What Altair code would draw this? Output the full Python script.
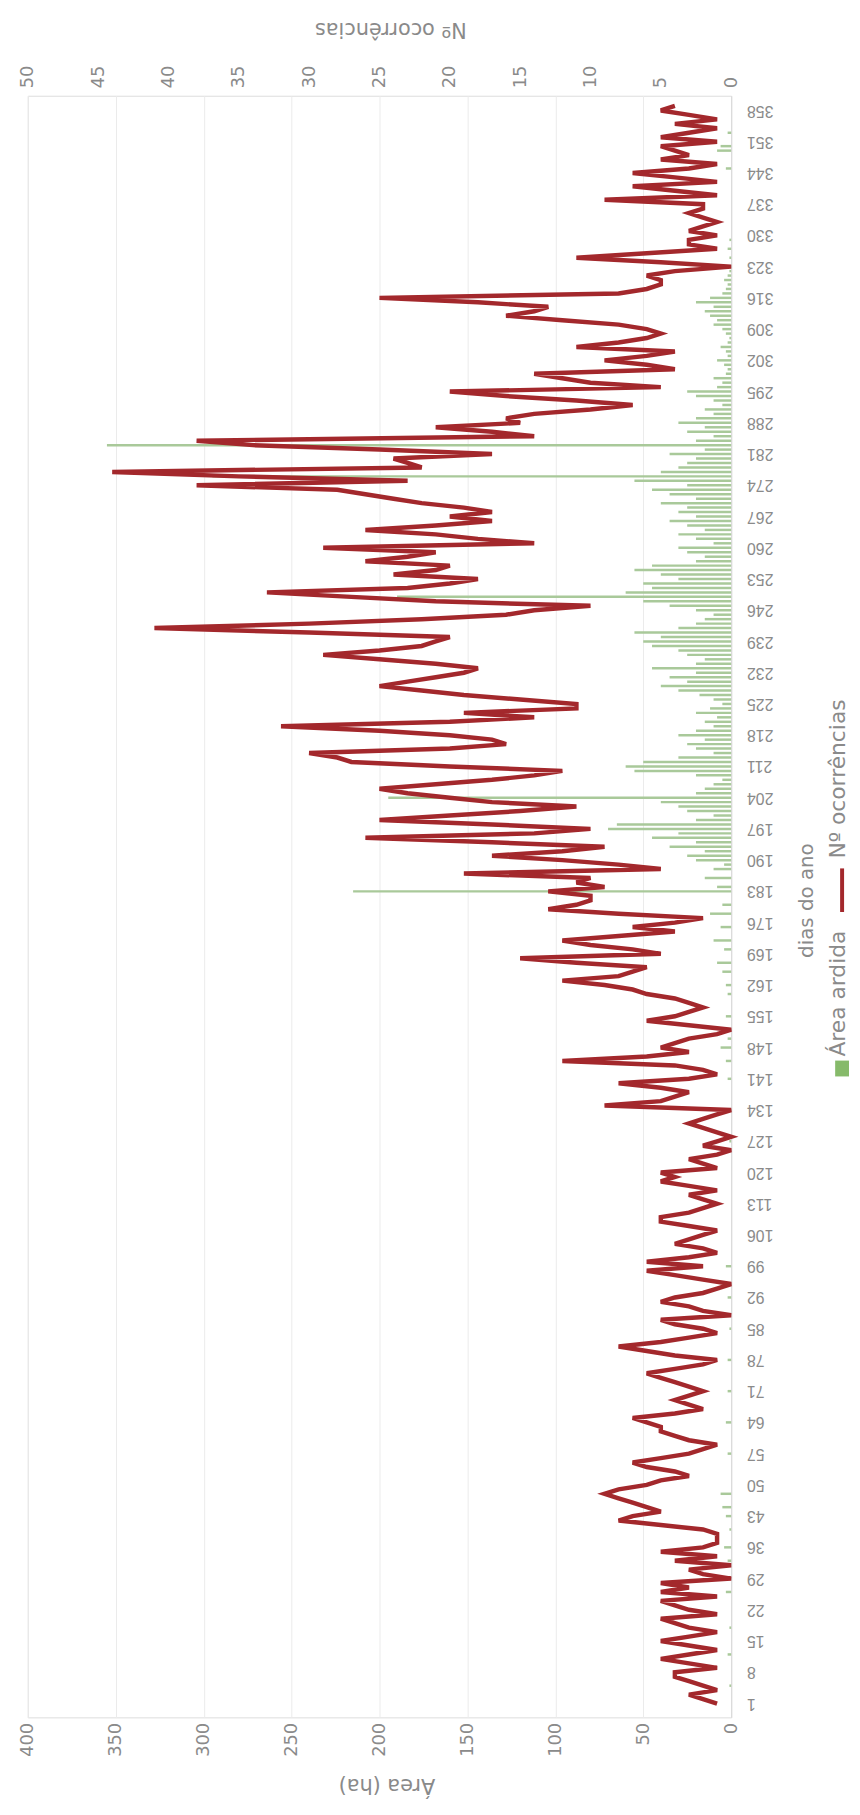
import altair as alt
import pandas as pd

# ---- data ----
days = list(range(1, 360))

ocorrencias = [
    1, 2, 3, 1, 2, 3, 4, 4, 1, 3,
    5, 3, 1, 3, 5, 3, 1, 3, 4, 5,
    1, 3, 4, 5, 1, 5, 3, 5, 0, 2,
    3, 0, 4, 1, 5, 2, 1, 1, 1, 2,
    5, 8, 7, 5, 6, 7, 8, 9, 8, 6,
    5, 3, 4, 6, 7, 5, 3, 2, 1, 3,
    4, 5, 5, 6, 7, 4, 2, 3, 4, 3,
    2, 3, 4, 5, 6, 4, 2, 1, 4, 6,
    8, 5, 3, 1, 2, 4, 5, 0, 2, 3,
    5, 4, 2, 1, 0, 2, 4, 6, 2, 6,
    3, 1, 2, 4, 3, 2, 1, 3, 5, 5,
    3, 2, 1, 2, 3, 1, 3, 5, 4, 5,
    1, 2, 3, 1, 0, 2, 1, 0, 1, 2,
    3, 2, 1, 0, 9, 5, 4, 3, 5, 8,
    3, 1, 2, 4, 12, 6, 3, 5, 4, 3,
    1, 0, 3, 6, 4, 3, 2, 3, 4, 6,
    7, 9, 12, 8, 7, 6, 11, 15, 5, 7,
    10, 12, 8, 4, 7, 4, 2, 8, 13, 11,
    10, 10, 13, 9, 11, 10, 19, 5, 8, 12,
    17, 12, 9, 17, 26, 14, 10, 17, 25, 20,
    15, 11, 17, 20, 23, 25, 21, 17, 14, 12,
    20, 27, 28, 30, 20, 16, 17, 20, 25, 32,
    20, 14, 19, 11, 11, 15, 19, 22, 25, 23,
    21, 19, 18, 21, 25, 29, 25, 22, 21, 20,
    30, 41, 30, 22, 16, 14, 10, 21, 27, 33,
    23, 20, 18, 24, 21, 20, 26, 23, 21, 29,
    14, 18, 21, 26, 21, 17, 20, 17, 19, 22,
    24, 26, 28, 38, 23, 35, 44, 22, 23, 24,
    17, 25, 34, 38, 14, 17, 21, 15, 16, 14,
    10, 7, 11, 16, 20, 5, 10, 12, 14, 4,
    6, 9, 6, 4, 11, 8, 6, 5, 6, 8,
    12, 16, 14, 13, 18, 25, 8, 6, 5, 5,
    6, 4, 0, 5, 11, 6, 1, 3, 3, 1,
    3, 2, 1, 2, 3, 2, 2, 9, 1, 4,
    7, 1, 4, 7, 3, 1, 5, 3, 4, 5,
    1, 5, 3, 1, 4, 1, 3, 5, 4,
]

area = [
    0, 0, 0, 0, 1, 0, 0, 0, 0, 0,
    0, 2, 0, 0, 0, 0, 0, 1, 0, 0,
    0, 0, 0, 0, 0, 3, 0, 0, 0, 0,
    0, 0, 2, 0, 0, 4, 0, 0, 0, 1,
    0, 0, 3, 0, 5, 0, 0, 6, 0, 0,
    0, 0, 0, 0, 0, 0, 2, 0, 0, 0,
    0, 0, 0, 3, 0, 0, 0, 0, 0, 0,
    2, 0, 0, 0, 0, 0, 0, 2, 0, 0,
    0, 0, 0, 0, 1, 0, 0, 0, 0, 0,
    0, 2, 0, 0, 0, 0, 0, 0, 3, 0,
    0, 0, 0, 0, 0, 0, 0, 0, 0, 0,
    0, 0, 0, 0, 0, 0, 0, 0, 0, 0,
    0, 0, 0, 0, 0, 0, 1, 0, 0, 0,
    0, 0, 0, 4, 0, 0, 0, 0, 0, 0,
    2, 0, 0, 0, 3, 0, 0, 6, 0, 2,
    0, 0, 0, 0, 3, 0, 0, 0, 0, 2,
    0, 3, 0, 0, 5, 0, 8, 0, 0, 4,
    0, 10, 0, 0, 6, 0, 0, 12, 0, 5,
    0, 0, 215, 8, 0, 15, 0, 10, 4, 20,
    25, 15, 35, 20, 45, 30, 70, 65, 20, 10,
    25, 30, 40, 195, 20, 15, 10, 5, 20, 55,
    60, 50, 30, 10, 20, 25, 15, 30, 20, 10,
    15, 8, 20, 12, 5, 10, 18, 30, 40, 25,
    35, 20, 45, 20, 15, 25, 30, 45, 50, 40,
    55, 30, 20, 15, 10, 20, 35, 50, 190, 60,
    45, 50, 30, 40, 55, 45, 20, 15, 25, 30,
    10, 20, 30, 15, 25, 35, 20, 30, 25, 40,
    20, 35, 45, 25, 55, 295, 40, 30, 25, 20,
    35, 15, 355, 20, 10, 25, 15, 30, 20, 10,
    15, 5, 10, 20, 25, 8, 5, 10, 3, 2,
    4, 8, 2, 3, 6, 2, 1, 3, 5, 10,
    8, 12, 15, 10, 20, 12, 5, 3, 2, 4,
    2, 1, 3, 0, 1, 0, 2, 0, 1, 0,
    0, 0, 0, 0, 0, 0, 0, 0, 0, 0,
    0, 0, 0, 0, 3, 0, 0, 0, 8, 6,
    0, 0, 2, 0, 0, 0, 0, 0, 0,
]

day_ticks = list(range(1, 359, 7))
day_tick_labels = [str(d) for d in day_ticks]
area_ticks = [0, 50, 100, 150, 200, 250, 300, 350, 400]
occ_ticks = [0, 5, 10, 15, 20, 25, 30, 35, 40, 45, 50]
legend_labels = ["Área ardida", "Nº ocorrências"]

df = pd.DataFrame({"dia": days, "ocorrencias": ocorrencias, "area": area})
df["zero"] = 0
ticks_df = pd.DataFrame({"dia": day_ticks, "lbl": day_tick_labels})

GREY = "#8a8a8a"
RED = "#a3282c"
GREEN_BAR = "#a9c99a"
GREEN_KEY = "#86ba6a"

W, H = 710, 1637

y_scale = alt.Scale(domain=[-2.1, 361.3], nice=False, zero=False)
y_axis = alt.Axis(
    orient="right", values=day_ticks, labels=False, ticks=False, grid=False,
    domainColor="#d9d9d9",
    title="dias do ano", titleAngle=270, titleFont="DejaVu Sans",
    titleFontSize=20, titleFontWeight="normal", titleColor=GREY,
    titleX=76, titleY=812, titleAlign="center", titleBaseline="middle",
)
y_enc = alt.Y("dia:Q", scale=y_scale, axis=y_axis)

bars = alt.Chart(df).mark_rule(color=GREEN_BAR, strokeWidth=2.5).encode(
    x=alt.X(
        "area:Q",
        scale=alt.Scale(domain=[0, 400], reverse=True, nice=False),
        axis=alt.Axis(
            orient="bottom", values=area_ticks, labelAngle=270, labelAlign="right",
            labelBaseline="middle", labelFontSize=18, labelFont="DejaVu Sans",
            labelColor=GREY, labelPadding=5, ticks=False, domain=False,
            grid=True, gridColor="#ebebeb", labelFlush=False, labelOverlap=False,
            title="Área (ha)", titleAngle=180, titleFont="DejaVu Sans",
            titleFontSize=21, titleFontWeight="normal", titleColor=GREY,
            titleX=362, titleY=68, titleAlign="center", titleBaseline="middle",
        ),
    ),
    x2="zero:Q",
    y=y_enc,
)

line = alt.Chart(df).mark_line(color=RED, strokeWidth=4.5).encode(
    x=alt.X(
        "ocorrencias:Q",
        scale=alt.Scale(domain=[0, 50], reverse=True, nice=False),
        axis=alt.Axis(
            orient="top", values=occ_ticks, labelAngle=270, labelAlign="left",
            labelBaseline="middle", labelFontSize=18, labelFont="DejaVu Sans",
            labelColor=GREY, labelPadding=8, ticks=False, domain=False,
            grid=False, labelFlush=False, labelOverlap=False,
            title="Nº ocorrências", titleAngle=180, titleFont="DejaVu Sans",
            titleFontSize=21, titleFontWeight="normal", titleColor=GREY,
            titleX=366, titleY=-68, titleAlign="center", titleBaseline="middle",
        ),
    ),
    y=y_enc,
    order="dia:Q",
)

# day labels, upside down like the photographed page
day_labels = alt.Chart(ticks_df).mark_text(
    angle=180, align="right", baseline="middle", font="Liberation Sans",
    fontSize=16, color=GREY,
).encode(
    y=alt.Y("dia:Q", scale=y_scale, axis=y_axis),
    x=alt.value(W + 16),
    text="lbl:N",
)

# ---- legend (drawn manually, rotated like the rest of the picture) ----
leg_green = alt.Chart(pd.DataFrame({"k": [legend_labels[0]]})).mark_rect(color=GREEN_KEY).encode(
    x=alt.value(815), x2=alt.value(829), y=alt.value(974), y2=alt.value(990)
)
leg_green_text = alt.Chart(pd.DataFrame({"k": [legend_labels[0]]})).mark_text(
    angle=270, align="left", baseline="middle", font="DejaVu Sans", fontSize=22, color=GREY
).encode(text="k:N", x=alt.value(818), y=alt.value(970))
leg_red = alt.Chart(pd.DataFrame({"k": [legend_labels[1]]})).mark_rule(color=RED, strokeWidth=4).encode(
    x=alt.value(822), y=alt.value(780), y2=alt.value(824)
)
leg_red_text = alt.Chart(pd.DataFrame({"k": [legend_labels[1]]})).mark_text(
    angle=270, align="left", baseline="middle", font="DejaVu Sans", fontSize=22, color=GREY
).encode(text="k:N", x=alt.value(818), y=alt.value(770))

chart = (
    alt.layer(bars, line, day_labels, leg_green, leg_green_text, leg_red, leg_red_text)
    .resolve_scale(x="independent")
    .properties(
        width=W, height=H,
        autosize=alt.AutoSizeParams(type="none"),
        padding={"left": 20, "top": 80, "right": 122, "bottom": 90},
    )
    .configure_view(stroke=None)
    .configure(background="white")
)

chart.save("out.html", embed_options={"renderer": "svg", "actions": False})
